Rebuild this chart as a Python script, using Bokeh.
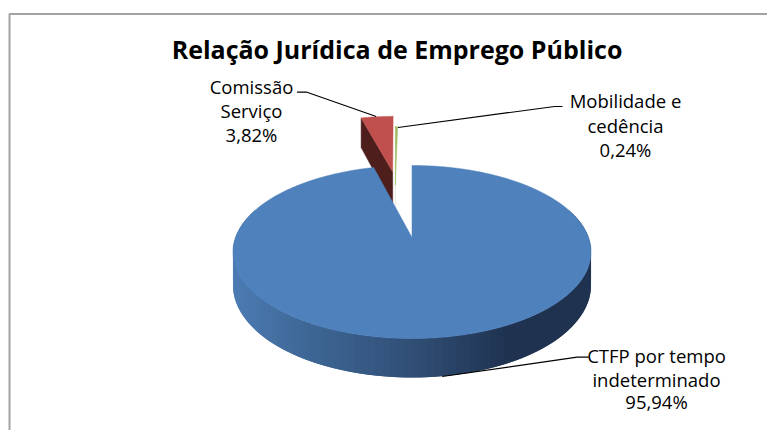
import numpy as np
from bokeh.plotting import figure
from bokeh.embed import file_html
from bokeh.resources import INLINE
from bokeh.core.properties import value

title = "Relação Jurídica de Emprego Público"
categories = ["CTFP por tempo indeterminado", "Comissão Serviço", "Mobilidade e cedência"]
shares = [95.94, 3.82, 0.24]
share_labels = ["95,94%", "3,82%", "0,24%"]
top_colors = ["#4f81bd", "#c0504d", "#9bbb59"]
wall_colors = ["#1f3350", "#4d1e1c", "#e3e9d6"]

# projection parameters of the tilted pie (screen pixels)
CX, CY, RX, RY, K, DEPTH = 411.5, 237.0, 176.5, 84.07, 0.1676, 32.5
EXPLODE = [(0.0, 0.0), (-0.126, 0.9), (-0.105, 0.695)]
WALL_SCALE = [1.0, 1.2, 1.0]
F = "Open Sans"


def proj(u, v, depth=0.0):
    s = 1.0 / (1.0 + K * v)
    return CX + RX * u * s, CY - RY * v * s + depth * DEPTH * s


def arc(a0, a1, n=160):
    t = np.radians(np.linspace(a0, a1, n))
    return np.sin(t), np.cos(t)


p = figure(width=767, height=430, x_range=(0, 767), y_range=(430, 0),
           output_backend="svg", toolbar_location=None, min_border=0,
           x_axis_location=None, y_axis_location=None)
p.grid.visible = False
p.outline_line_color = None
p.background_fill_color = "white"
p.border_fill_color = "white"

# chart frame: top and left only are in view
p.line([9, 9, 767], [430, 13.5, 13.5], line_color="#a3a3a3", line_width=2)

cum = np.concatenate([[0.0], np.cumsum(shares)]) / np.sum(shares) * 360.0

# curved side of the main slice, shaded left to right
stop_x = [233.0, 300.0, 400.0, 510.0, 592.0]
stop_r = [0x4d, 0x3f, 0x33, 0x1f, 0x1f]
stop_g = [0x7c, 0x69, 0x52, 0x33, 0x33]
stop_b = [0xb4, 0x98, 0x7a, 0x50, 0x50]
su, sv = arc(70, 290, 111)
xt, yt = proj(su, sv)
xb, yb = proj(su, sv, 1.0)
qx, qy, qc = [], [], []
for i in range(len(su) - 2):
    qx.append([xt[i], xt[i + 2], xb[i + 2], xb[i]])
    qy.append([yt[i], yt[i + 2], yb[i + 2], yb[i]])
    m = (xt[i] + xt[i + 1]) / 2
    qc.append("#%02x%02x%02x" % (int(np.interp(m, stop_x, stop_r)),
                                 int(np.interp(m, stop_x, stop_g)),
                                 int(np.interp(m, stop_x, stop_b))))
p.patches(qx, qy, fill_color=qc, line_color=None)

# slices: walls first, then top faces, drawn back from the smallest to the largest
for i in [2, 1, 0]:
    du, dv = EXPLODE[i]
    u, v = arc(cum[i], cum[i + 1], max(4, int(cum[i + 1] - cum[i]) * 2))
    u = np.concatenate([[0.0], u]) + du
    v = np.concatenate([[0.0], v]) + dv
    X, Y = proj(u, v)
    if i > 0:
        ws = WALL_SCALE[i]
        xa, ya = proj(u[[1, 0]], v[[1, 0]])
        xd, yd = proj(u[[0, 1]], v[[0, 1]], ws)
        p.patch(list(xa) + list(xd), list(ya) + list(yd),
                fill_color=wall_colors[i], line_color=wall_colors[i], line_width=0.5)
    p.patch(X, Y, fill_color=top_colors[i], line_color=top_colors[i], line_width=0.5)

# leader lines
for lx, ly in [([296.5, 306.5, 375.7], [91.7, 91.7, 116.0]),
               ([397.5, 554.0, 562.0], [127.0, 106.0, 106.0]),
               ([441.7, 576.7, 588.0], [376.0, 356.7, 356.7])]:
    p.line(lx, ly, line_color="black", line_width=1.2)

# texts
p.text([396.5], [48.5], text=[title], text_font=value(F), text_font_style="bold",
       text_font_size="25px", text_align="center", text_baseline="middle", text_color="black")
lab = [
    (656, [355, 379, 401], ["CTFP por tempo", "indeterminado", share_labels[0]]),
    (251, [86, 110, 134], ["Comissão", "Serviço", share_labels[1]]),
    (625, [100, 125, 149], ["Mobilidade e", "cedência", share_labels[2]]),
]
for cx, ys, txt in lab:
    p.text([cx] * 3, ys, text=txt, text_font=value(F), text_font_size="18.5px",
           text_align="center", text_baseline="middle", text_color="black")

open("out.html", "w").write(file_html(p, INLINE))
